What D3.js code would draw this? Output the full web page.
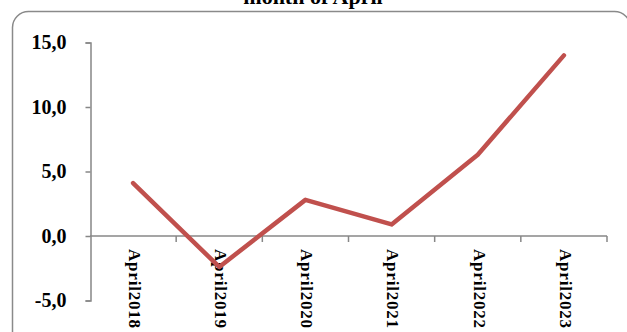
<!DOCTYPE html>
<html>
<head>
<meta charset="utf-8">
<script src="https://cdn.jsdelivr.net/npm/d3@7"></script>
<style>
  html, body { margin: 0; padding: 0; background: #fff; }
  svg { display: block; }
</style>
</head>
<body>
<svg id="chart" width="627" height="332"></svg>
<script>
// Year-on-year change, month of April
const categories = ["April2018", "April2019", "April2020", "April2021", "April2022", "April2023"];
const values = [4.1, -2.4, 2.8, 0.9, 6.3, 14.0];
const yTicks = [15, 10, 5, 0, -5];
const titleText = "month of April";

const svg = d3.select("#chart");

const axisColor = "#878787";
const lineColor = "#C0504D";
const serif = "'Liberation Serif', 'DejaVu Serif', serif";

// chart area frame (rounded, partly outside the viewport)
svg.append("rect")
  .attr("x", 12.5).attr("y", 11.5)
  .attr("width", 618).attr("height", 340)
  .attr("rx", 16).attr("ry", 16)
  .attr("fill", "none")
  .attr("stroke", "#8a8a8a")
  .attr("stroke-width", 1.5);

// title (only its last line falls inside the view)
svg.append("text")
  .attr("x", 313).attr("y", 4)
  .attr("text-anchor", "middle")
  .attr("font-family", serif)
  .attr("font-weight", "bold")
  .attr("font-size", 22)
  .text(titleText);

const x = d3.scaleBand().domain(categories).range([90, 607]).padding(0);
const y = d3.scaleLinear().domain([-5, 15]).range([300.5, 42.5]);

// y axis, decimal comma and plain hyphen for negatives
const yAxis = d3.axisLeft(y).tickValues(yTicks).tickSize(5).tickPadding(19)
  .tickFormat(d => d.toFixed(1).replace(".", ","));
const gy = svg.append("g").attr("transform", "translate(90.5,0)").call(yAxis);
gy.select(".domain").attr("stroke", axisColor).attr("stroke-width", 1.5);
gy.selectAll(".tick line").attr("stroke", axisColor).attr("stroke-width", 1.5);
gy.selectAll(".tick text")
  .attr("font-family", serif)
  .attr("font-weight", "bold")
  .attr("font-size", 20)
  .attr("fill", "#000");

// x axis at zero, with ticks on category boundaries
const y0 = y(0);
const gx = svg.append("g");
gx.append("line")
  .attr("x1", x.range()[0]).attr("x2", x.range()[1])
  .attr("y1", y0).attr("y2", y0)
  .attr("stroke", axisColor).attr("stroke-width", 1.5);
gx.selectAll("line.tick")
  .data(categories)
  .join("line")
  .attr("class", "tick")
  .attr("x1", d => x(d) + x.bandwidth()).attr("x2", d => x(d) + x.bandwidth())
  .attr("y1", y0).attr("y2", y0 + 6)
  .attr("stroke", axisColor).attr("stroke-width", 1.5);

// category labels, rotated to read downward
gx.selectAll("text")
  .data(categories)
  .join("text")
  .attr("transform", d => `translate(${x(d) + x.bandwidth() / 2},${y0 + 13}) rotate(90)`)
  .attr("dy", "0.25em")
  .attr("text-anchor", "start")
  .attr("font-family", serif)
  .attr("font-weight", "bold")
  .attr("font-size", 17)
  .attr("letter-spacing", 0.8)
  .attr("fill", "#000")
  .text(d => d);

// data line
const line = d3.line()
  .x((d, i) => x(categories[i]) + x.bandwidth() / 2)
  .y(d => y(d));

svg.append("path")
  .datum(values)
  .attr("d", line)
  .attr("fill", "none")
  .attr("stroke", lineColor)
  .attr("stroke-width", 4.5)
  .attr("stroke-linejoin", "round")
  .attr("stroke-linecap", "round");
</script>
</body>
</html>
